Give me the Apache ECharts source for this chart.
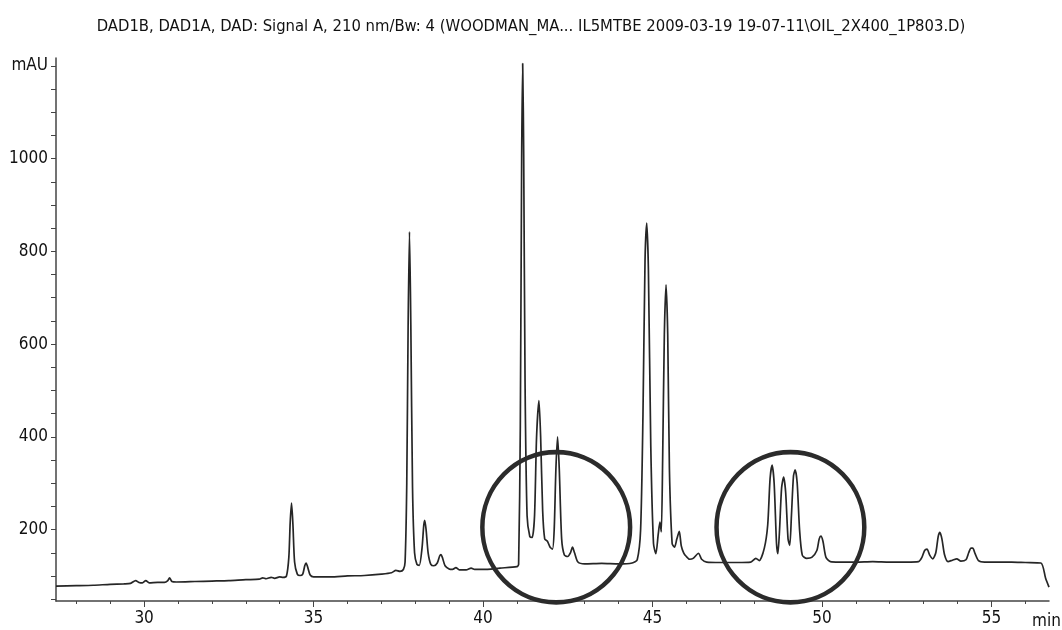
<!DOCTYPE html>
<html>
<head>
<meta charset="utf-8">
<script src="https://cdn.jsdelivr.net/npm/echarts@6/dist/echarts.min.js"></script>
<style>
  html, body { margin: 0; padding: 0; background: #fff; }
  #chart { width: 1062px; height: 630px; }
</style>
</head>
<body>
<div id="chart"></div>
<script>
// 标题 / 坐标
var titleText = "DAD1B, DAD1A, DAD: Signal A, 210 nm/Bw: 4 (WOODMAN_MA... IL5MTBE 2009-03-19 19-07-11\\OIL_2X400_1P803.D)";
var xTicks = [28, 29, 30, 31, 32, 33, 34, 35, 36, 37, 38, 39, 40, 41, 42, 43, 44, 45, 46, 47, 48, 49, 50, 51, 52, 53, 54, 55, 56];
var xLabels = [30, 35, 40, 45, 50, 55];
var yTicks = [50, 100, 150, 200, 250, 300, 350, 400, 450, 500, 550, 600, 650, 700, 750, 800, 850, 900, 950, 1000, 1050, 1100, 1150, 1200];
var yLabels = [200, 400, 600, 800, 1000, 1200];

// 色谱信号 [min, mAU]
var signal = [
  [27.4, 78], [28.0, 79], [28.5, 80], [29.0, 82], [29.4, 83], [29.6, 84], [29.75, 90], [29.85, 86],
  [29.95, 85], [30.05, 90], [30.15, 85], [30.4, 86], [30.6, 86], [30.7, 90], [30.75, 96], [30.82, 88],
  [30.95, 87], [31.5, 88], [32.0, 89], [32.5, 90], [33.0, 92], [33.4, 93], [33.5, 96], [33.6, 94],
  [33.75, 97], [33.85, 95], [34.0, 98], [34.1, 97],
  [34.2, 100], [34.27, 140], [34.31, 215], [34.35, 257], [34.39, 212], [34.44, 130], [34.52, 104], [34.6, 101],
  [34.68, 104], [34.74, 122], [34.78, 128], [34.83, 118], [34.9, 102], [35.0, 98],
  [35.5, 98], [36.0, 100], [36.5, 101], [37.0, 104], [37.3, 107], [37.43, 112], [37.55, 110], [37.65, 114],
  [37.7, 130], [37.75, 300], [37.79, 640], [37.83, 842], [37.87, 640], [37.92, 290], [37.98, 150], [38.05, 125],
  [38.12, 123], [38.2, 160], [38.25, 208], [38.28, 220], [38.32, 200], [38.38, 150], [38.46, 125], [38.55, 122],
  [38.65, 128], [38.72, 143], [38.76, 146], [38.8, 140], [38.88, 122], [39.0, 115], [39.1, 114], [39.2, 118],
  [39.3, 113], [39.5, 113], [39.65, 117], [39.75, 114], [40.0, 114], [40.5, 117], [41.0, 120],
  [41.05, 125], [41.1, 420], [41.14, 1000], [41.17, 1205], [41.2, 1010], [41.24, 520], [41.3, 230], [41.38, 185],
  [41.45, 183], [41.52, 230], [41.58, 400], [41.65, 478], [41.7, 400], [41.76, 240], [41.82, 180], [41.9, 175],
  [41.98, 162], [42.05, 158],
  [42.1, 200], [42.15, 330], [42.2, 400], [42.25, 330], [42.32, 180], [42.4, 145], [42.5, 142],
  [42.58, 150], [42.64, 162], [42.7, 150], [42.8, 130], [43.0, 126], [43.5, 127], [44.0, 126], [44.4, 128],
  [44.55, 135], [44.65, 200], [44.72, 450], [44.78, 780], [44.83, 861], [44.88, 760], [44.95, 380], [45.03, 170],
  [45.1, 148], [45.17, 190], [45.22, 216], [45.26, 195],
  [45.3, 350], [45.35, 620], [45.4, 728], [45.45, 620], [45.5, 330], [45.58, 170], [45.65, 162],
  [45.72, 180], [45.79, 196], [45.85, 165], [45.92, 150], [46.0, 142], [46.1, 136], [46.2, 138], [46.36, 149],
  [46.45, 136], [46.6, 130], [47.0, 129], [47.5, 129], [47.9, 130], [48.05, 138], [48.15, 133], [48.3, 160],
  [48.4, 210], [48.47, 310], [48.53, 339], [48.59, 300], [48.66, 170], [48.7, 148],
  [48.75, 200], [48.81, 290], [48.87, 313], [48.93, 280], [49.0, 180], [49.05, 166],
  [49.1, 230], [49.16, 315], [49.21, 329], [49.27, 300], [49.34, 200], [49.42, 145], [49.55, 138], [49.7, 140],
  [49.85, 155], [49.92, 180], [49.97, 186], [50.03, 175], [50.12, 140], [50.25, 131], [50.5, 130], [51.0, 130],
  [51.5, 131], [52.0, 130], [52.5, 130], [52.85, 131],
  [52.95, 140], [53.03, 155], [53.1, 158], [53.18, 145], [53.27, 137],
  [53.36, 150], [53.43, 185], [53.48, 194], [53.54, 180], [53.62, 145], [53.72, 131], [53.85, 134], [53.98, 137],
  [54.1, 132], [54.25, 135], [54.33, 150], [54.4, 160], [54.45, 160], [54.52, 148], [54.62, 133], [54.8, 130],
  [55.2, 130], [55.6, 130], [56.0, 129], [56.46, 128], [56.6, 95], [56.7, 76]
];

// 圈出的区域 [中心min, 中心mAU]
var circleCenters = [[42.16, 205], [49.07, 205]];
var circleSpanX = 2.18;  // min
var circleSpanY = 162;   // mAU

var font = "'Liberation Sans Narrow', 'DejaVu Sans Condensed', sans-serif";

var chart = echarts.init(document.getElementById("chart"));

var option = {
  backgroundColor: "#fff",
  animation: false,
  title: {
    text: titleText,
    left: "center",
    top: 13,
    textStyle: {
      fontFamily: font,
      fontSize: 16.5,
      fontWeight: "normal",
      color: "#111"
    }
  },
  grid: {
    left: 56,
    right: 13,
    top: 58,
    bottom: 29,
    outerBoundsMode: "none"
  },
  xAxis: [
    {
      type: "value",
      min: 27.4,
      max: 56.7,
      name: "min",
      nameLocation: "end",
      nameGap: -17,
      nameTextStyle: {
        fontFamily: font,
        fontSize: 17,
        color: "#111",
        verticalAlign: "top",
        padding: [12, 0, 0, 0]
      },
      axisLine: { show: true, onZero: false, lineStyle: { color: "#444", width: 1.5 } },
      axisTick: { show: true, length: 3, customValues: xTicks, lineStyle: { color: "#444" } },
      axisLabel: {
        customValues: xLabels,
        margin: 9,
        fontFamily: font,
        fontSize: 17,
        color: "#111"
      },
      splitLine: { show: false }
    },
    {
      type: "value",
      min: 27.4,
      max: 56.7,
      position: "bottom",
      axisLine: { show: false },
      axisTick: { show: true, length: 6, customValues: xLabels, lineStyle: { color: "#444" } },
      axisLabel: { show: false },
      splitLine: { show: false }
    }
  ],
  yAxis: {
    type: "value",
    min: 46,
    max: 1217,
    axisLine: { show: true, onZero: false, lineStyle: { color: "#444", width: 1.5 } },
    axisTick: { show: true, length: 5, customValues: yTicks, lineStyle: { color: "#444" } },
    axisLabel: {
      customValues: yLabels,
      margin: 8,
      fontFamily: font,
      fontSize: 17,
      color: "#111",
      formatter: function(v) {
        return v === 1200 ? "mAU" : String(v);
      }
    },
    splitLine: { show: false }
  },
  series: [
    {
      name: "Signal A",
      type: "line",
      data: signal,
      showSymbol: false,
      smooth: 0.25,
      lineStyle: { color: "#262626", width: 1.7 }
    }
  ]
};
chart.setOption(option);

// 圈 — 用坐标换算成像素
var circles = circleCenters.map(function(c) {
  var p = chart.convertToPixel({ xAxisIndex: 0, yAxisIndex: 0 }, c);
  var px = chart.convertToPixel({ xAxisIndex: 0, yAxisIndex: 0 }, [c[0] + circleSpanX, c[1] + circleSpanY]);
  var rx = Math.abs(px[0] - p[0]);
  var ry = Math.abs(p[1] - px[1]);
  return {
    type: "circle",
    x: p[0],
    y: p[1],
    scaleY: ry / rx,
    shape: { cx: 0, cy: 0, r: rx },
    style: { fill: null, stroke: "#2b2b2b", lineWidth: 4.5 },
    z: 100
  };
});
chart.setOption({ graphic: circles });
</script>
</body>
</html>
